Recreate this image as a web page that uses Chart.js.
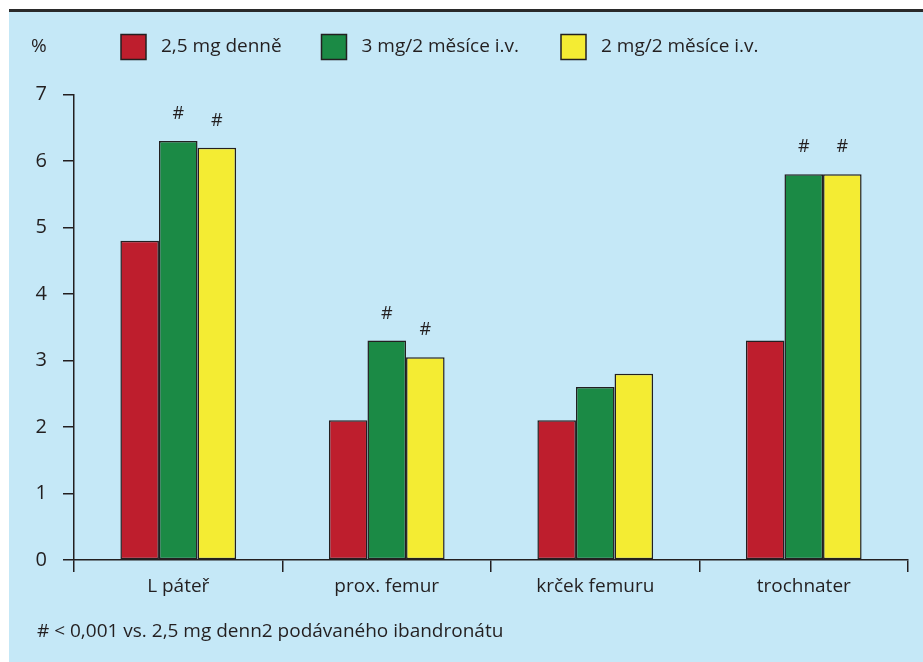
<!DOCTYPE html>
<html>
<head>
<meta charset="utf-8">
<script src="https://cdn.jsdelivr.net/npm/chart.js@4"></script>
<style>
  html, body { margin: 0; padding: 0; background: #ffffff; }
  #wrap { width: 923px; height: 662px; position: relative; }
</style>
</head>
<body>
<div id="wrap"><canvas id="c" width="923" height="662"></canvas></div>
<script>
// ---- data ----
const categories = ['L páteř', 'prox. femur', 'krček femuru', 'trochnater'];
const seriesNames = ['2,5 mg denně', '3 mg/2 měsíce i.v.', '2 mg/2 měsíce i.v.'];
const daily25 = [4.8, 2.1, 2.1, 3.3];
const iv3 = [6.3, 3.3, 2.6, 5.8];
const iv2 = [6.2, 3.05, 2.8, 5.8];
const sigIv3 = [true, true, false, true];
const sigIv2 = [true, true, false, true];
const yTicks = [0, 1, 2, 3, 4, 5, 6, 7];
const unitLabel = '%';
const footnote = '# < 0,001 vs. 2,5 mg denn2 podávaného ibandronátu';

// ---- styles ----
const INK = '#231f20';
const BG = '#c5e8f7';
const COLORS = ['#be1e2d', '#1b8a45', '#f4ec33'];
const FONT = '"Open Sans", "Noto Sans", sans-serif';

const panelPlugin = {
  id: 'panel',
  beforeDraw(chart) {
    const ctx = chart.ctx;
    ctx.save();
    ctx.fillStyle = BG;
    ctx.fillRect(9, 12, 923 - 9, 662 - 12);
    ctx.fillStyle = '#2a2a2a';
    ctx.fillRect(9, 9, 923 - 9, 3);
    ctx.restore();
  }
};

const legendPlugin = {
  id: 'customLegend',
  afterDraw(chart) {
    const ctx = chart.ctx;
    ctx.save();
    ctx.font = '19px ' + FONT;
    ctx.fillStyle = INK;
    ctx.textBaseline = 'middle';
    ctx.textAlign = 'left';
    ctx.fillText(unitLabel, 31, 47);
    const boxX = [121, 321.5, 561];
    chart.data.datasets.forEach((ds, i) => {
      ctx.fillStyle = ds.backgroundColor;
      ctx.fillRect(boxX[i], 34.5, 25, 25);
      ctx.strokeStyle = INK;
      ctx.lineWidth = 1.5;
      ctx.strokeRect(boxX[i], 34.5, 25, 25);
      ctx.fillStyle = INK;
      ctx.fillText(ds.label, boxX[i] + 40, 47);
    });
    ctx.fillText(footnote, 37, 632);
    ctx.restore();
  }
};

const hashPlugin = {
  id: 'hashMarks',
  afterDatasetsDraw(chart) {
    const ctx = chart.ctx;
    const flags = [null, sigIv3, sigIv2];
    ctx.save();
    ctx.font = '18px ' + FONT;
    ctx.fillStyle = INK;
    ctx.textAlign = 'center';
    ctx.textBaseline = 'middle';
    flags.forEach((f, di) => {
      if (!f) return;
      const meta = chart.getDatasetMeta(di);
      meta.data.forEach((bar, i) => {
        if (f[i]) ctx.fillText('#', bar.x, bar.y - 27);
      });
    });
    ctx.restore();
  }
};

new Chart(document.getElementById('c'), {
  type: 'bar',
  data: {
    labels: categories,
    datasets: [
      { label: seriesNames[0], data: daily25, backgroundColor: COLORS[0] },
      { label: seriesNames[1], data: iv3, backgroundColor: COLORS[1] },
      { label: seriesNames[2], data: iv2, backgroundColor: COLORS[2] }
    ]
  },
  options: {
    responsive: false,
    animation: false,
    devicePixelRatio: 1,
    layout: { padding: { left: 0, right: 15, top: 94.5, bottom: 0 } },
    datasets: {
      bar: {
        categoryPercentage: 0.555,
        barPercentage: 1.0,
        borderColor: INK,
        borderWidth: 1.5,
        borderSkipped: false
      }
    },
    plugins: {
      legend: { display: false },
      tooltip: { enabled: false }
    },
    scales: {
      x: {
        offset: true,
        grid: { offset: true, drawOnChartArea: false, drawTicks: true, tickLength: 12, color: INK, lineWidth: 1.5 },
        border: { display: true, color: INK, width: 1.5 },
        ticks: { color: INK, font: { family: FONT, size: 19 }, padding: 3, maxRotation: 0 },
        afterFit(scale) { scale.height = 102; }
      },
      y: {
        min: 0,
        max: 7,
        afterBuildTicks(scale) { scale.ticks = yTicks.map(v => ({ value: v })); },
        grid: { drawOnChartArea: false, drawTicks: true, tickLength: 11, color: INK, lineWidth: 1.5 },
        border: { display: true, color: INK, width: 1.5 },
        ticks: { color: INK, font: { family: FONT, size: 20 }, padding: 16 },
        afterFit(scale) { scale.width = 74; }
      }
    }
  },
  plugins: [panelPlugin, legendPlugin, hashPlugin]
});
</script>
</body>
</html>
